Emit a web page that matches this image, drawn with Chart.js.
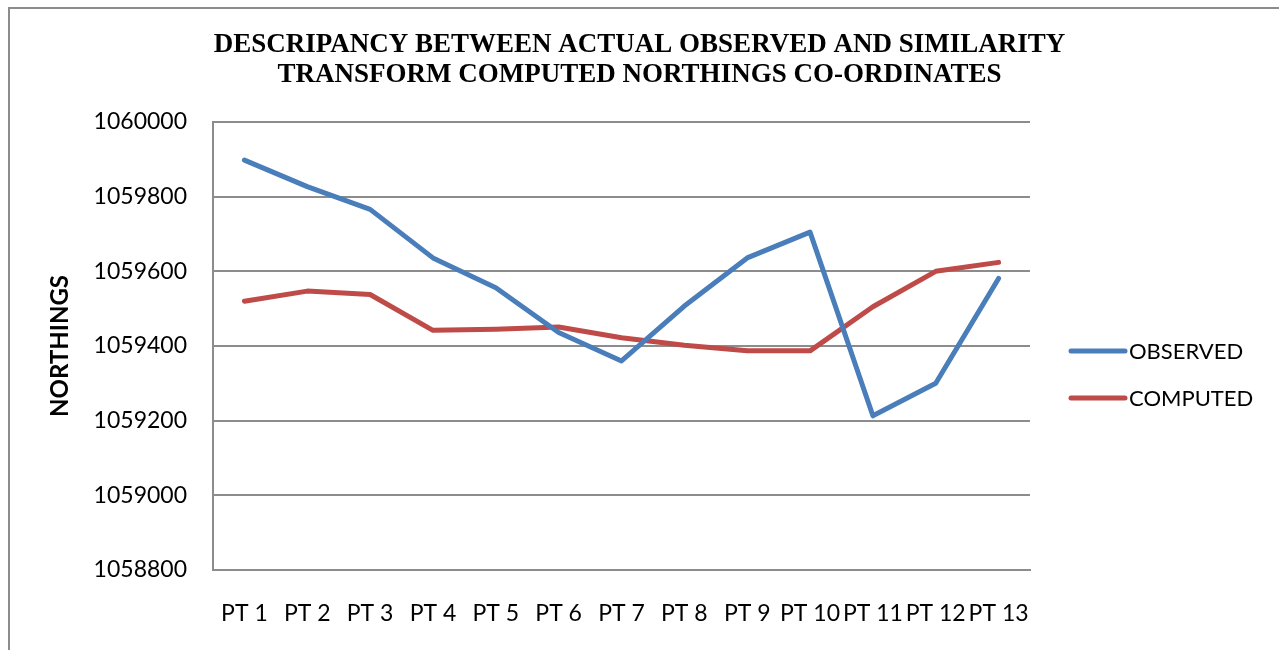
<!DOCTYPE html>
<html>
<head>
<meta charset="utf-8">
<script src="https://cdn.jsdelivr.net/npm/chart.js@4"></script>
<style>
  html, body { margin:0; padding:0; background:#fff; }
  #wrap { position:relative; width:1279px; height:650px; overflow:hidden; }
  #frame { position:absolute; left:8px; top:7px; width:2000px; height:2000px; border-left:2px solid #8c8c8c; border-top:2px solid #8c8c8c; box-sizing:border-box; }
  canvas { position:absolute; left:0; top:0; }
</style>
</head>
<body>
<div id="wrap">
  <div id="frame"></div>
  <canvas id="c" width="1279" height="650"></canvas>
</div>
<script>
const categories = ["PT 1","PT 2","PT 3","PT 4","PT 5","PT 6","PT 7","PT 8","PT 9","PT 10","PT 11","PT 12","PT 13"];
const observed = [1059898,1059827,1059766,1059636,1059556,1059436,1059360,1059507,1059636,1059705,1059213,1059300,1059581];
const computed = [1059520,1059547,1059538,1059442,1059445,1059451,1059422,1059402,1059387,1059387,1059505,1059600,1059624];
const seriesNames = ["OBSERVED","COMPUTED"];
const titleLines = ["DESCRIPANCY BETWEEN ACTUAL OBSERVED AND SIMILARITY","TRANSFORM COMPUTED NORTHINGS CO-ORDINATES"];
const yAxisTitle = "NORTHINGS";
const yMin = 1058800, yMax = 1060000, yStep = 200;

const legendPlugin = {
  id: 'sideLegend',
  afterDraw(chart) {
    const ctx = chart.ctx;
    const ys = [351, 398];
    ctx.save();
    chart.data.datasets.forEach((ds, i) => {
      const y = ys[i];
      ctx.strokeStyle = ds.borderColor;
      ctx.lineWidth = 5;
      ctx.lineCap = 'round';
      ctx.beginPath();
      ctx.moveTo(1071, y);
      ctx.lineTo(1125, y);
      ctx.stroke();
      ctx.fillStyle = '#000';
      ctx.font = '22px Lato';
      ctx.textBaseline = 'middle';
      ctx.textAlign = 'left';
      ctx.fillText(ds.label, 1129, y + 1);
    });
    ctx.restore();
  }
};

new Chart(document.getElementById('c'), {
  type: 'line',
  data: {
    labels: categories,
    datasets: [
      { label: seriesNames[0], data: observed, borderColor: '#4a7ebb', backgroundColor: '#4a7ebb', borderWidth: 5, pointRadius: 0, tension: 0, borderCapStyle: 'round', borderJoinStyle: 'round' },
      { label: seriesNames[1], data: computed, borderColor: '#be4b48', backgroundColor: '#be4b48', borderWidth: 5, pointRadius: 0, tension: 0, borderCapStyle: 'round', borderJoinStyle: 'round' }
    ]
  },
  options: {
    responsive: false,
    animation: false,
    devicePixelRatio: 1,
    layout: { padding: 0 },
    plugins: {
      legend: { display: false },
      tooltip: { enabled: false },
      title: {
        display: true,
        text: titleLines,
        color: '#000',
        font: { family: '"Liberation Serif", "Times New Roman", serif', size: 27, weight: 'bold', lineHeight: 1.1 },
        padding: { top: 30, bottom: 32.6 }
      }
    },
    scales: {
      x: {
        type: 'category',
        offset: true,
        grid: { display: false, drawTicks: false },
        border: { display: true, color: '#8c8c8c', width: 2 },
        ticks: { color: '#000', font: { family: 'Lato', size: 23 }, padding: 30, maxRotation: 0, minRotation: 0, autoSkip: false },
        afterFit(scale) { scale.height = 80; }
      },
      y: {
        min: yMin, max: yMax,
        grid: { color: '#8c8c8c', lineWidth: 2, drawTicks: false },
        border: { display: true, color: '#8c8c8c', width: 2 },
        ticks: { stepSize: yStep, color: '#000', font: { family: 'Lato', size: 23 }, padding: 26, callback: v => String(v) },
        title: { display: true, text: yAxisTitle, color: '#000', font: { family: 'Lato', size: 24, weight: 'bold' }, padding: { top: 45.6, bottom: 0 } },
        afterFit(scale) { scale.width = 213; }
      },
      yRight: {
        position: 'right',
        min: yMin, max: yMax,
        grid: { display: false, drawTicks: false },
        border: { display: false },
        ticks: { display: false },
        afterFit(scale) { scale.width = 249; }
      }
    }
  },
  plugins: [legendPlugin]
});
</script>
</body>
</html>
